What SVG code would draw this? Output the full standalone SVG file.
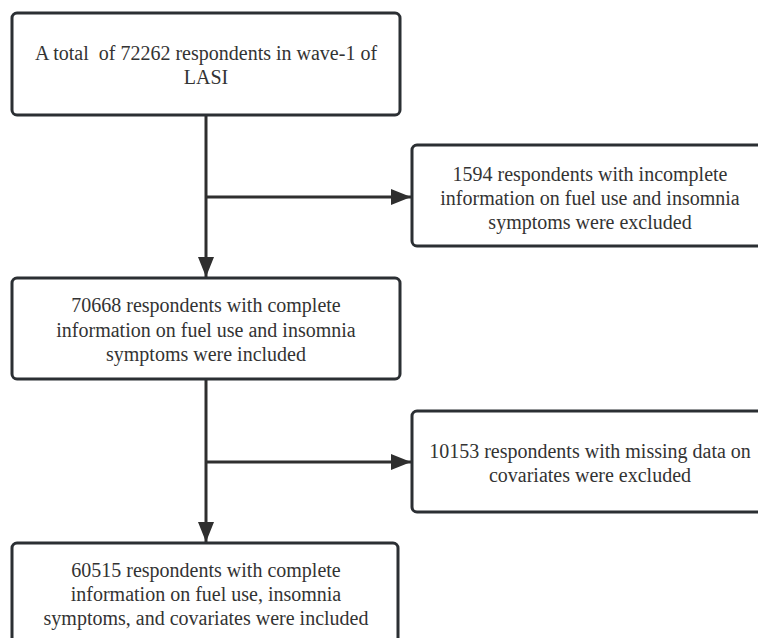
<svg xmlns="http://www.w3.org/2000/svg" width="758" height="638" viewBox="0 0 758 638">
<defs>
<style>
.box{fill:#fff;stroke:#2b2f33;stroke-width:3}
.t{font-family:"Liberation Serif",serif;font-size:20px;fill:#333;text-anchor:middle;white-space:pre}
.ln{fill:none;stroke:#2f2f2f;stroke-width:3}
</style>
<marker id="ah" markerUnits="userSpaceOnUse" markerWidth="20" markerHeight="16" refX="20" refY="8" orient="auto">
<path d="M0,0 L20,8 L0,16 Z" fill="#2f2f2f"/>
</marker>
</defs>
<rect width="758" height="638" fill="#fff"/>
<g id="connectors">
<line class="ln" x1="206" y1="115" x2="206" y2="277" marker-end="url(#ah)"/>
<line class="ln" x1="206" y1="197" x2="411" y2="197" marker-end="url(#ah)"/>
<line class="ln" x1="206" y1="380" x2="206" y2="542" marker-end="url(#ah)"/>
<line class="ln" x1="206" y1="462" x2="411" y2="462" marker-end="url(#ah)"/>
</g>
<g id="n1">
<rect class="box" x="12" y="13" width="388" height="102" rx="5"/>
<text class="t" x="206" y="60" xml:space="preserve" font-family="Liberation Serif, serif">A total  of 72262 respondents in wave-1 of</text>
<text class="t" x="206" y="84">LASI</text>
</g>
<g id="n2">
<rect class="box" x="412" y="145" width="400" height="101" rx="5"/>
<text class="t" x="590" y="181">1594 respondents with incomplete</text>
<text class="t" x="590" y="205">information on fuel use and insomnia</text>
<text class="t" x="590" y="229">symptoms were excluded</text>
</g>
<g id="n3">
<rect class="box" x="12" y="278" width="388" height="101" rx="5"/>
<text class="t" x="206" y="312">70668 respondents with complete</text>
<text class="t" x="206" y="337">information on fuel use and insomnia</text>
<text class="t" x="206" y="361">symptoms were included</text>
</g>
<g id="n4">
<rect class="box" x="412" y="411" width="400" height="101" rx="5"/>
<text class="t" x="590" y="458">10153 respondents with missing data on</text>
<text class="t" x="590" y="482">covariates were excluded</text>
</g>
<g id="n5">
<rect class="box" x="12" y="543" width="386" height="120" rx="5"/>
<text class="t" x="206" y="577">60515 respondents with complete</text>
<text class="t" x="206" y="601">information on fuel use, insomnia</text>
<text class="t" x="206" y="625">symptoms, and covariates were included</text>
</g>
</svg>
